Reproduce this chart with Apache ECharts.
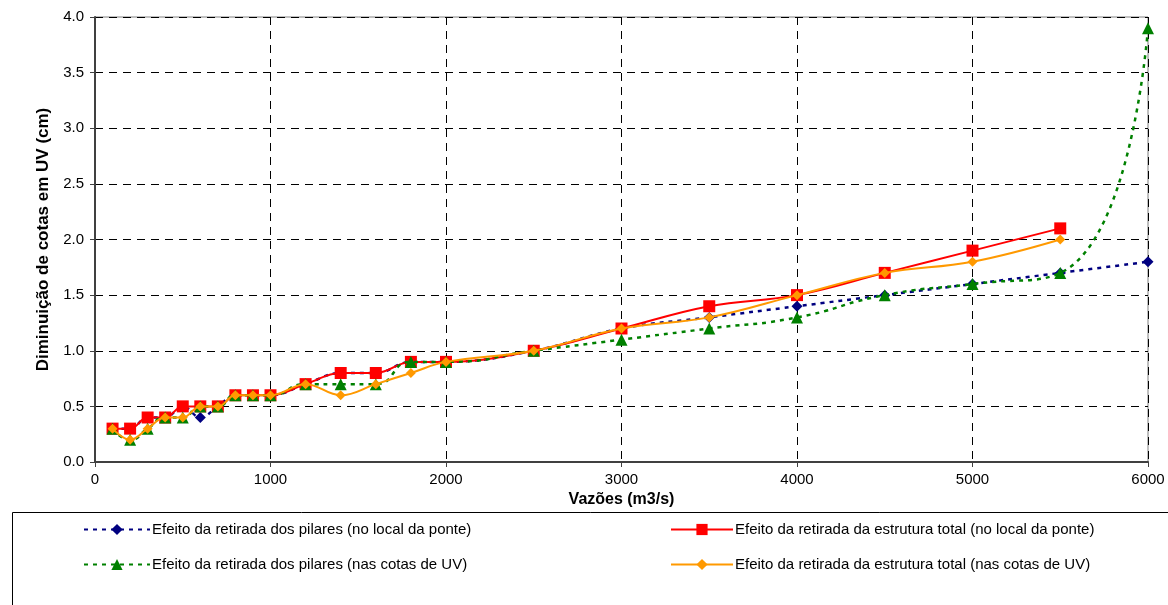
<!DOCTYPE html>
<html>
<head>
<meta charset="utf-8">
<script src="https://cdn.jsdelivr.net/npm/echarts@6/dist/echarts.min.js"></script>
<style>
  html, body { margin: 0; padding: 0; background: #fff; }
  #chart { width: 1168px; height: 605px; }
</style>
</head>
<body>
<div id="chart"></div>
<script>
// Vazões (m3/s) at which each effect was computed
const vazoes = [100, 200, 300, 400, 500, 600, 700, 800, 900, 1000, 1200, 1400, 1600, 1800, 2000, 2500, 3000, 3500, 4000, 4500, 5000, 5500, 6000];

// Diminuição de cotas (cm)
const pilaresLocal = [0.3, 0.3, 0.4, 0.4, 0.5, 0.4, 0.5, 0.6, 0.6, 0.6, 0.7, 0.8, 0.8, 0.9, 0.9, 1.0, 1.2, 1.3, 1.4, 1.5, 1.6, 1.7, 1.8];
const estruturaLocal = [0.3, 0.3, 0.4, 0.4, 0.5, 0.5, 0.5, 0.6, 0.6, 0.6, 0.7, 0.8, 0.8, 0.9, 0.9, 1.0, 1.2, 1.4, 1.5, 1.7, 1.9, 2.1];
const pilaresUV = [0.3, 0.2, 0.3, 0.4, 0.4, 0.5, 0.5, 0.6, 0.6, 0.6, 0.7, 0.7, 0.7, 0.9, 0.9, 1.0, 1.1, 1.2, 1.3, 1.5, 1.6, 1.7, 3.9];
const estruturaUV = [0.3, 0.2, 0.3, 0.4, 0.4, 0.5, 0.5, 0.6, 0.6, 0.6, 0.7, 0.6, 0.7, 0.8, 0.9, 1.0, 1.2, 1.3, 1.5, 1.7, 1.8, 2.0];

const names = [
  'Efeito da retirada dos pilares (no local da ponte)',
  'Efeito da retirada da estrutura total (no local da ponte)',
  'Efeito da retirada dos pilares (nas cotas de UV)',
  'Efeito da retirada da estrutura total (nas cotas de UV)'
];

const pairs = ys => ys.map((y, i) => [vazoes[i], y]);

const chart = echarts.init(document.getElementById('chart'), null, { renderer: 'canvas' });
const font = 'Liberation Sans, Arial, sans-serif';

const legendText = { fontSize: 15, color: '#000', fontFamily: font, padding: [0, 0, 0, -3] };

chart.setOption({
  animation: false,
  textStyle: { fontFamily: font },
  grid: {
    left: 95, right: 20, top: 17, bottom: 143,
    show: true, borderColor: '#808080', borderWidth: 1
  },
  xAxis: {
    type: 'value', min: 0, max: 6000, interval: 1000,
    name: 'Vazões (m3/s)', nameLocation: 'middle', nameGap: 28,
    nameTextStyle: { fontWeight: 'bold', fontSize: 16, color: '#000', fontFamily: font },
    axisLine: { lineStyle: { color: '#404040', width: 2 } },
    axisTick: { show: true, length: 5, lineStyle: { color: '#404040' } },
    axisLabel: { color: '#000', fontSize: 15, margin: 10, fontFamily: font, formatter: v => String(v) },
    splitLine: { show: true, lineStyle: { color: '#000', type: [8, 6], width: 1 } }
  },
  yAxis: {
    type: 'value', min: 0, max: 4, interval: 0.5,
    name: 'Diminuição de cotas em UV (cm)', nameLocation: 'middle', nameGap: 43,
    nameTextStyle: { fontWeight: 'bold', fontSize: 17, color: '#000', fontFamily: font },
    axisLine: { show: true, lineStyle: { color: '#404040', width: 2 } },
    axisTick: { show: true, length: 5, lineStyle: { color: '#404040' } },
    axisLabel: { color: '#000', fontSize: 15, margin: 11, fontFamily: font, formatter: v => v.toFixed(1) },
    splitLine: { show: true, lineStyle: { color: '#000', type: [8, 6], width: 1 } }
  },
  legend: [
    {
      data: [names[0], names[2]], orient: 'vertical', left: 78, top: 517,
      itemWidth: 66, itemHeight: 14, itemGap: 20, textStyle: legendText
    },
    {
      data: [names[1], names[3]], orient: 'vertical', left: 665, top: 517,
      itemWidth: 62, itemHeight: 14, itemGap: 20, textStyle: legendText
    }
  ],
  graphic: [{
    type: 'rect', left: 10, top: 510,
    shape: { width: 1170, height: 110 },
    style: { fill: 'none', stroke: '#000', lineWidth: 1 },
    silent: true
  }],
  series: [
    {
      name: names[0], type: 'line', data: pairs(pilaresLocal), smooth: 0.4,
      symbol: 'diamond', symbolSize: 11,
      lineStyle: { color: '#000080', width: 2.5, type: [4, 5] },
      itemStyle: { color: '#000080' }, z: 2
    },
    {
      name: names[1], type: 'line', data: pairs(estruturaLocal), smooth: 0.4,
      symbol: 'rect', symbolSize: 12,
      lineStyle: { color: '#ff0000', width: 2 },
      itemStyle: { color: '#ff0000' }, z: 3
    },
    {
      name: names[2], type: 'line', data: pairs(pilaresUV), smooth: 0.55,
      symbol: 'triangle', symbolSize: 12,
      lineStyle: { color: '#008000', width: 2.5, type: [4, 5] },
      itemStyle: { color: '#008000' }, z: 4
    },
    {
      name: names[3], type: 'line', data: pairs(estruturaUV), smooth: 0.4,
      symbol: 'diamond', symbolSize: 10,
      lineStyle: { color: '#ff9900', width: 2 },
      itemStyle: { color: '#ff9900' }, z: 5
    }
  ]
});
</script>
</body>
</html>
